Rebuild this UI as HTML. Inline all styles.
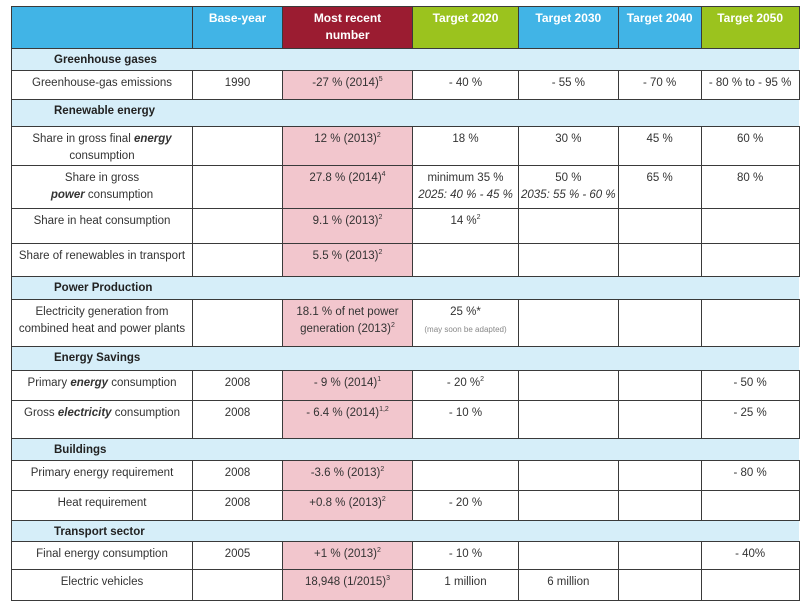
<!DOCTYPE html>
<html><head><meta charset="utf-8"><style>
body{margin:0;background:#fff;width:800px;height:611px;overflow:hidden;font-family:"Liberation Sans",sans-serif;}
table{position:absolute;left:11px;top:6px;border-collapse:collapse;table-layout:fixed;font-size:11.5px;color:#333;}
td,th{border:1px solid #3a3a3a;text-align:center;vertical-align:top;padding:4px 2px 0 2px;line-height:17px;overflow:hidden;}
th{color:#fff;font-weight:bold;font-size:12px;padding-top:3px;}
.b{background:#41b4e6}.r{background:#9b1c31}.g{background:#9bc31e}
.p{background:#f2c6cd}
tr.sec td{background:#d6eef9;font-weight:bold;color:#222;border-left:none;border-right:none;text-align:left;padding:3px 0 0 42px;}
tr.sec td:first-child{border-left:1px solid #3a3a3a}
.sm{font-size:8px;color:#888;line-height:10px}
sup{font-size:7px;line-height:0}
</style></head><body>
<table>
<colgroup><col style="width:181px"><col style="width:90px"><col style="width:130px"><col style="width:106px"><col style="width:89px"><col style="width:83px"><col style="width:98px"></colgroup>
<tr style="height:42px"><th class="b"></th><th class="b">Base-year</th><th class="r">Most recent<br>number</th><th class="g">Target 2020</th><th class="b">Target 2030</th><th class="b">Target 2040</th><th class="g">Target 2050</th></tr>
<tr class="sec" style="height:22px"><td colspan="7">Greenhouse gases</td></tr>
<tr style="height:29px"><td>Greenhouse-gas emissions</td><td>1990</td><td class="p">-27 % (2014)<sup>5</sup></td><td>- 40 %</td><td>- 55 %</td><td>- 70 %</td><td>- 80 % to - 95 %</td></tr>
<tr class="sec" style="height:27px"><td colspan="7">Renewable energy</td></tr>
<tr style="height:38px"><td>Share in gross final <b><i>energy</i></b><br>consumption</td><td></td><td class="p">12 % (2013)<sup>2</sup></td><td>18 %</td><td>30 %</td><td>45 %</td><td>60 %</td></tr>
<tr style="height:43px"><td>Share in gross<br><b><i>power</i></b> consumption</td><td></td><td class="p">27.8 % (2014)<sup>4</sup></td><td>minimum 35 %<br><i>2025: 40 % - 45 %</i></td><td style="white-space:nowrap">50 %<br><i>2035: 55 % - 60 %</i></td><td>65 %</td><td>80 %</td></tr>
<tr style="height:35px"><td>Share in heat consumption</td><td></td><td class="p">9.1 % (2013)<sup>2</sup></td><td>14 %<sup>2</sup></td><td></td><td></td><td></td></tr>
<tr style="height:33px"><td style="white-space:nowrap">Share of renewables in transport</td><td></td><td class="p">5.5 % (2013)<sup>2</sup></td><td></td><td></td><td></td><td></td></tr>
<tr class="sec" style="height:23px"><td colspan="7">Power Production</td></tr>
<tr style="height:47px"><td style="white-space:nowrap">Electricity generation from<br>combined heat and power plants</td><td></td><td class="p">18.1 % of net power<br>generation (2013)<sup>2</sup></td><td>25 %*<br><span class="sm">(may soon be adapted)</span></td><td></td><td></td><td></td></tr>
<tr class="sec" style="height:24px"><td colspan="7">Energy Savings</td></tr>
<tr style="height:30px"><td>Primary <b><i>energy</i></b> consumption</td><td>2008</td><td class="p">- 9 % (2014)<sup>1</sup></td><td>- 20 %<sup>2</sup></td><td></td><td></td><td>- 50 %</td></tr>
<tr style="height:38px"><td>Gross <b><i>electricity</i></b> consumption</td><td>2008</td><td class="p">- 6.4 % (2014)<sup>1,2</sup></td><td>- 10 %</td><td></td><td></td><td>- 25 %</td></tr>
<tr class="sec" style="height:22px"><td colspan="7">Buildings</td></tr>
<tr style="height:30px"><td>Primary energy requirement</td><td>2008</td><td class="p">-3.6 % (2013)<sup>2</sup></td><td></td><td></td><td></td><td>- 80 %</td></tr>
<tr style="height:30px"><td>Heat requirement</td><td>2008</td><td class="p">+0.8 % (2013)<sup>2</sup></td><td>- 20 %</td><td></td><td></td><td></td></tr>
<tr class="sec" style="height:21px"><td colspan="7">Transport sector</td></tr>
<tr style="height:28px"><td>Final energy consumption</td><td>2005</td><td class="p">+1 % (2013)<sup>2</sup></td><td>- 10 %</td><td></td><td></td><td>- 40%</td></tr>
<tr style="height:31px"><td>Electric vehicles</td><td></td><td class="p">18,948 (1/2015)<sup>3</sup></td><td>1 million</td><td>6 million</td><td></td><td></td></tr>
</table>
</body></html>
